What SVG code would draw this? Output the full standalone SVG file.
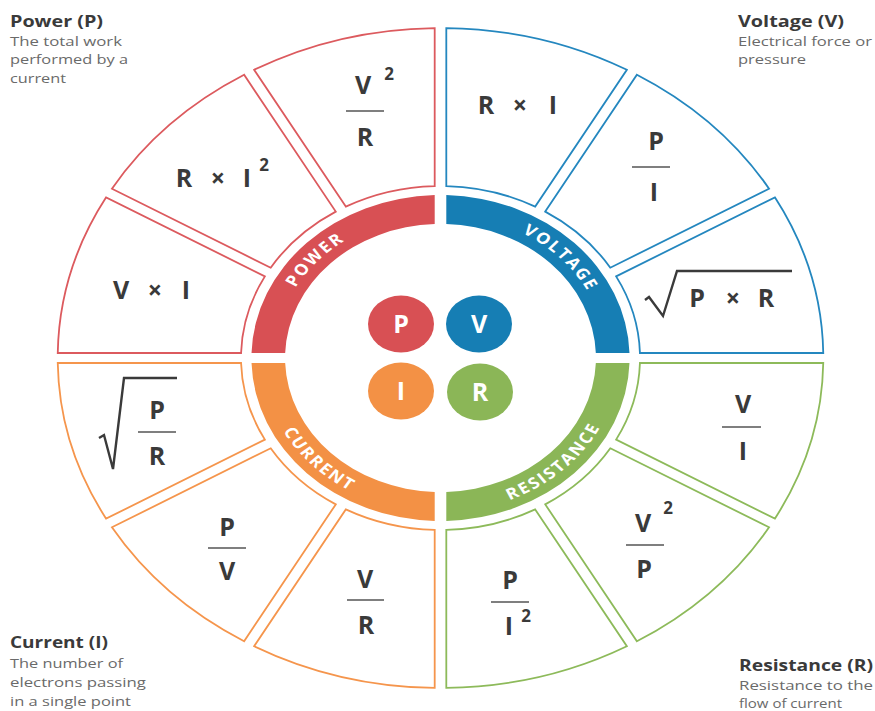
<svg xmlns="http://www.w3.org/2000/svg" width="875" height="711" viewBox="0 0 875 711">
<style>
.seg{fill:#fff;stroke-width:1.8;vector-effect:non-scaling-stroke}
.r{stroke:#DC5A5E}.b{stroke:#2487BF}.o{stroke:#F5954C}.g{stroke:#8DBA5A}
.f{font-family:"Open Sans","DejaVu Sans",sans-serif;font-weight:700;font-size:25px;fill:#3a3a3a;text-anchor:middle}
.sup{font-family:"Open Sans","DejaVu Sans",sans-serif;font-weight:700;font-size:17px;fill:#3a3a3a;text-anchor:middle}
.fl{stroke:#555;stroke-width:1.6}
.rad{fill:none;stroke:#3a3a3a;stroke-width:2.4;stroke-linejoin:miter}
.ring{font-family:"Open Sans","DejaVu Sans",sans-serif;font-weight:700;font-size:15.5px;fill:#fff;letter-spacing:1.8px}
.big{font-family:"Open Sans","DejaVu Sans",sans-serif;font-weight:700;font-size:25px;fill:#fff;text-anchor:middle}
.t{font-family:"Open Sans","DejaVu Sans",sans-serif;font-weight:700;font-size:16px;fill:#3a3a3a}
.d{font-family:"Open Sans","DejaVu Sans",sans-serif;font-size:13.5px;fill:#6a6a6a}
</style>
<defs>
<path id="pPow" d="M -143.5 0 A 143.5 143.5 0 0 1 0 -143.5"/>
<path id="pVol" d="M 0 -143.5 A 143.5 143.5 0 0 1 143.5 0"/>
<path id="pCur" d="M -154 0 A 154 154 0 0 0 0 154"/>
<path id="pRes" d="M 0 154 A 154 154 0 0 0 154 0"/>
</defs>
<rect width="875" height="711" fill="#fff"/>

<g id="wheel" transform="translate(440.5,358) scale(1.16,1)">
  <g id="voltage-segments">
    <path class="seg b" d="M 5,-171.93 L 5,-329.96 A 330 330 0 0 1 160.65,-288.25 L 81.64,-151.39 A 172 172 0 0 0 5,-171.93 Z"/>
    <path class="seg b" d="M 90.30,-146.39 L 169.31,-283.25 A 330 330 0 0 1 283.25,-169.31 L 146.39,-90.30 A 172 172 0 0 0 90.30,-146.39 Z"/>
    <path class="seg b" d="M 151.39,-81.64 L 288.25,-160.65 A 330 330 0 0 1 329.96,-5 L 171.93,-5 A 172 172 0 0 0 151.39,-81.64 Z"/>
  </g>
  <g id="resistance-segments">
    <path class="seg g" d="M 171.93,5 L 329.96,5 A 330 330 0 0 1 288.25,160.65 L 151.39,81.64 A 172 172 0 0 0 171.93,5 Z"/>
    <path class="seg g" d="M 146.39,90.30 L 283.25,169.31 A 330 330 0 0 1 169.31,283.25 L 90.30,146.39 A 172 172 0 0 0 146.39,90.30 Z"/>
    <path class="seg g" d="M 81.64,151.39 L 160.65,288.25 A 330 330 0 0 1 5,329.96 L 5,171.93 A 172 172 0 0 0 81.64,151.39 Z"/>
  </g>
  <g id="current-segments">
    <path class="seg o" d="M -5,171.93 L -5,329.96 A 330 330 0 0 1 -160.65,288.25 L -81.64,151.39 A 172 172 0 0 0 -5,171.93 Z"/>
    <path class="seg o" d="M -90.30,146.39 L -169.31,283.25 A 330 330 0 0 1 -283.25,169.31 L -146.39,90.30 A 172 172 0 0 0 -90.30,146.39 Z"/>
    <path class="seg o" d="M -151.39,81.64 L -288.25,160.65 A 330 330 0 0 1 -329.96,5 L -171.93,5 A 172 172 0 0 0 -151.39,81.64 Z"/>
  </g>
  <g id="power-segments">
    <path class="seg r" d="M -171.93,-5 L -329.96,-5 A 330 330 0 0 1 -288.25,-160.65 L -151.39,-81.64 A 172 172 0 0 0 -171.93,-5 Z"/>
    <path class="seg r" d="M -146.39,-90.30 L -283.25,-169.31 A 330 330 0 0 1 -169.31,-283.25 L -90.30,-146.39 A 172 172 0 0 0 -146.39,-90.30 Z"/>
    <path class="seg r" d="M -81.64,-151.39 L -160.65,-288.25 A 330 330 0 0 1 -5,-329.96 L -5,-171.93 A 172 172 0 0 0 -81.64,-151.39 Z"/>
  </g>
  <g id="ring-power">
    <path fill="#D85054" d="M -133.91,-5 L -162.92,-5 A 163 163 0 0 1 -5,-162.92 L -5,-133.91 A 134 134 0 0 0 -133.91,-5 Z"/>
    <text class="ring"><textPath href="#pPow" startOffset="47%" text-anchor="middle">POWER</textPath></text>
  </g>
  <g id="ring-voltage">
    <path fill="#167EB4" d="M 5,-133.91 L 5,-162.92 A 163 163 0 0 1 162.92,-5 L 133.91,-5 A 134 134 0 0 0 5,-133.91 Z"/>
    <text class="ring"><textPath href="#pVol" startOffset="51%" text-anchor="middle">VOLTAGE</textPath></text>
  </g>
  <g id="ring-resistance">
    <path fill="#8BB657" d="M 133.91,5 L 162.92,5 A 163 163 0 0 1 5,162.92 L 5,133.91 A 134 134 0 0 0 133.91,5 Z"/>
    <text class="ring"><textPath href="#pRes" startOffset="48%" text-anchor="middle">RESISTANCE</textPath></text>
  </g>
  <g id="ring-current">
    <path fill="#F39145" d="M -5,133.91 L -5,162.92 A 163 163 0 0 1 -162.92,5 L -133.91,5 A 134 134 0 0 0 -5,133.91 Z"/>
    <text class="ring"><textPath href="#pCur" startOffset="49%" text-anchor="middle">CURRENT</textPath></text>
  </g>
</g>

<g id="center">
  <g id="c-P"><ellipse cx="401" cy="324" rx="33" ry="28.5" fill="#D85054"/><text class="big" x="401" y="333">P</text></g>
  <g id="c-V"><ellipse cx="479" cy="324" rx="33" ry="28.5" fill="#167EB4"/><text class="big" x="479" y="333">V</text></g>
  <g id="c-I"><ellipse cx="401" cy="391" rx="33" ry="28.5" fill="#F39145"/><text class="big" x="401" y="400">I</text></g>
  <g id="c-R"><ellipse cx="480" cy="392" rx="33" ry="28.5" fill="#8BB657"/><text class="big" x="480" y="401">R</text></g>
</g>

<g id="formulas">
  <g id="f-VxI"><text class="f" y="299"><tspan x="121">V</tspan><tspan x="155">×</tspan><tspan x="186">I</tspan></text></g>
  <g id="f-RxI2"><text class="f" y="187"><tspan x="184">R</tspan><tspan x="218">×</tspan><tspan x="247">I</tspan></text><text class="sup" x="264" y="171">2</text></g>
  <g id="f-V2R"><text class="f" x="363" y="94">V</text><text class="sup" x="389" y="80">2</text><line class="fl" x1="346" y1="111" x2="384" y2="111"/><text class="f" x="365" y="146">R</text></g>
  <g id="f-RxI"><text class="f" y="114"><tspan x="486">R</tspan><tspan x="520">×</tspan><tspan x="553">I</tspan></text></g>
  <g id="f-PI"><text class="f" x="656" y="150">P</text><line class="fl" x1="632" y1="167" x2="670" y2="167"/><text class="f" x="654" y="201">I</text></g>
  <g id="f-sqrtPR"><polyline class="rad" points="645,300 649,297 663,316 677,271 792,271"/><text class="f" y="307"><tspan x="697">P</tspan><tspan x="733">×</tspan><tspan x="766">R</tspan></text></g>
  <g id="f-VI"><text class="f" x="743" y="413">V</text><line class="fl" x1="722" y1="427" x2="761" y2="427"/><text class="f" x="743" y="460">I</text></g>
  <g id="f-V2P"><text class="f" x="643" y="532">V</text><text class="sup" x="668" y="514">2</text><line class="fl" x1="626" y1="545" x2="664" y2="545"/><text class="f" x="644" y="578">P</text></g>
  <g id="f-PI2"><text class="f" x="510" y="589">P</text><line class="fl" x1="491" y1="602" x2="529" y2="602"/><text class="f" x="509" y="635">I</text><text class="sup" x="526" y="622">2</text></g>
  <g id="f-VR"><text class="f" x="365" y="588">V</text><line class="fl" x1="347" y1="600" x2="384" y2="600"/><text class="f" x="366" y="634">R</text></g>
  <g id="f-PV"><text class="f" x="227" y="536">P</text><line class="fl" x1="208" y1="548" x2="246" y2="548"/><text class="f" x="227" y="580">V</text></g>
  <g id="f-sqrtPdR"><polyline class="rad" points="99,438 104,435 113,469 124,378 177,378"/><text class="f" x="157" y="419">P</text><line class="fl" x1="138" y1="432" x2="176" y2="432"/><text class="f" x="157" y="465">R</text></g>
</g>

<g id="legend">
  <g id="l-power">
    <text class="t" x="10" y="27" textLength="93" lengthAdjust="spacingAndGlyphs">Power (P)</text>
    <text class="d" x="10" y="46" textLength="112" lengthAdjust="spacingAndGlyphs">The total work</text>
    <text class="d" x="10" y="64" textLength="118" lengthAdjust="spacingAndGlyphs">performed by a</text>
    <text class="d" x="10" y="83" textLength="56" lengthAdjust="spacingAndGlyphs">current</text>
  </g>
  <g id="l-voltage">
    <text class="t" x="738" y="27" textLength="106" lengthAdjust="spacingAndGlyphs">Voltage (V)</text>
    <text class="d" x="738" y="46" textLength="134" lengthAdjust="spacingAndGlyphs">Electrical force or</text>
    <text class="d" x="738" y="64" textLength="68" lengthAdjust="spacingAndGlyphs">pressure</text>
  </g>
  <g id="l-current">
    <text class="t" x="10" y="648" textLength="98" lengthAdjust="spacingAndGlyphs">Current (I)</text>
    <text class="d" x="10" y="668" textLength="113" lengthAdjust="spacingAndGlyphs">The number of</text>
    <text class="d" x="10" y="687" textLength="136" lengthAdjust="spacingAndGlyphs">electrons passing</text>
    <text class="d" x="10" y="706" textLength="121" lengthAdjust="spacingAndGlyphs">in a single point</text>
  </g>
  <g id="l-resistance">
    <text class="t" x="739" y="671" textLength="134" lengthAdjust="spacingAndGlyphs">Resistance (R)</text>
    <text class="d" x="739" y="690" textLength="134" lengthAdjust="spacingAndGlyphs">Resistance to the</text>
    <text class="d" x="739" y="708" textLength="103" lengthAdjust="spacingAndGlyphs">flow of current</text>
  </g>
</g>
</svg>
